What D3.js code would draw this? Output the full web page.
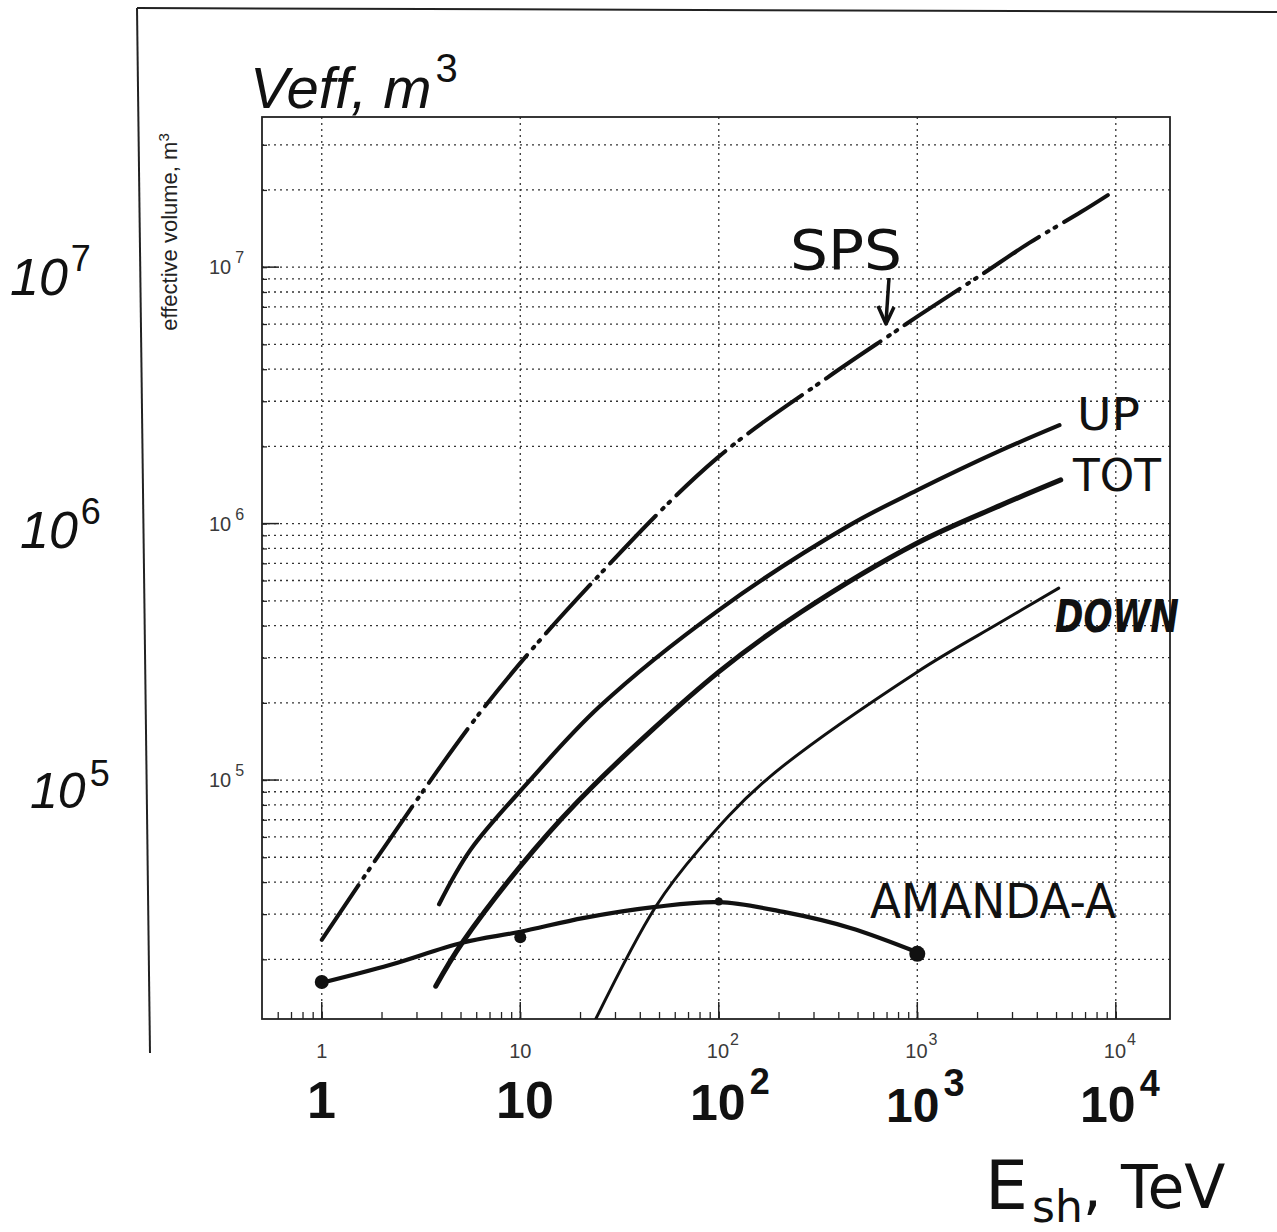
<!DOCTYPE html>
<html>
<head>
<meta charset="utf-8">
<script src="https://cdn.jsdelivr.net/npm/d3@7"></script>
<style>
  html, body { margin: 0; padding: 0; background: #fff; }
  svg { display: block; }
</style>
</head>
<body>
<svg id="chart" width="1277" height="1232"></svg>
<script>
// Effective volume vs. shower energy (log-log)
const xDecades = [1, 10, 100, 1000, 10000];
const xDecadeLabels = [["1", ""], ["10", ""], ["10", "2"], ["10", "3"], ["10", "4"]];
const yDecades = [1e5, 1e6, 1e7];
const yDecadeLabels = [["10", "5"], ["10", "6"], ["10", "7"]];

// SPS (dash-dot)
const spsE = [1, 6.3, 25, 98, 354, 753, 1007, 2090, 3650, 6670, 9120];
const spsV = [23800, 1.84e5, 6.3e5, 1.80e6, 3.72e6, 5.53e6, 6.44e6, 9.31e6, 1.24e7, 1.64e7, 1.91e7];
// UP
const upE = [3.9, 5.6, 11, 25, 100, 450, 1000, 2600, 5200];
const upV = [32800, 53300, 98300, 1.93e5, 4.6e5, 9.8e5, 1.35e6, 1.92e6, 2.42e6];
// TOT
const totE = [3.75, 5.1, 11.7, 23, 100, 260, 1000, 2640, 5280];
const totV = [15700, 23200, 53300, 9.4e4, 2.64e5, 4.52e5, 8.4e5, 1.18e6, 1.48e6];
// DOWN
const downE = [24, 48, 79, 173, 1000, 2640, 5160];
const downV = [11700, 32000, 53300, 1.0e5, 2.64e5, 4.13e5, 5.6e5];
// AMANDA-A curve and its measured points
const amandaE = [1, 2.2, 5.1, 10, 21, 48, 100, 212, 460, 1000];
const amandaV = [16200, 19000, 23200, 25600, 29000, 32000, 33400, 30600, 26500, 21300];
const amandaPtE = [1, 10, 100, 1000];
const amandaPtV = [16300, 24400, 33600, 21000];
const amandaPtR = [7, 6, 4, 8];

const svg = d3.select("#chart");
const L = 262, R = 1170, T = 117, B = 1019;

const x = d3.scaleLog().domain([0.5, 18750]).range([L, R]);
const y = d3.scaleLog().domain([1.17e4, 3.85e7]).range([B, T]);

const hand = "'DejaVu Sans', sans-serif";
const lib = "'Liberation Sans', Arial, sans-serif";
const thin = "'Liberation Sans', Arial, sans-serif";

// outer sheet frame
svg.append("line").attr("x1", 137).attr("y1", 8).attr("x2", 150).attr("y2", 1053)
  .attr("stroke", "#222").attr("stroke-width", 2);
svg.append("line").attr("x1", 137).attr("y1", 8).attr("x2", 1277).attr("y2", 12)
  .attr("stroke", "#222").attr("stroke-width", 2);

// minor values per decade
function minors(lo, hi) {
  const out = [];
  for (let d = Math.floor(Math.log10(lo)); d <= Math.ceil(Math.log10(hi)); d++) {
    for (let k = 1; k <= 9; k++) {
      const v = k * Math.pow(10, d);
      if (v > lo * 1.0001 && v < hi * 0.9999) out.push(v);
    }
  }
  return out;
}
const yGrid = minors(1.17e4, 3.85e7);
const xMinor = minors(0.5, 18750);

const g = svg.append("g");

// horizontal dotted grid
g.selectAll(".hg").data(yGrid).join("line")
  .attr("x1", L).attr("x2", R)
  .attr("y1", d => y(d)).attr("y2", d => y(d))
  .attr("stroke", "#333").attr("stroke-width", 1.3)
  .attr("stroke-dasharray", "2,4");
// vertical dotted grid at decades
g.selectAll(".vg").data(xDecades).join("line")
  .attr("x1", d => x(d)).attr("x2", d => x(d))
  .attr("y1", T).attr("y2", B)
  .attr("stroke", "#333").attr("stroke-width", 1.3)
  .attr("stroke-dasharray", "2,4");

// plot frame
g.append("rect").attr("x", L).attr("y", T).attr("width", R - L).attr("height", B - T)
  .attr("fill", "none").attr("stroke", "#222").attr("stroke-width", 1.8);

// axis ticks (inward)
const xAxis = d3.axisBottom(x).tickValues(xMinor).tickSizeInner(-7).tickSizeOuter(0).tickFormat("");
svg.append("g").attr("transform", `translate(0,${B})`).call(xAxis)
  .call(s => s.select(".domain").remove())
  .selectAll("line").attr("stroke", "#222").attr("stroke-width", 1.3);
svg.selectAll(".xmaj").data(xDecades).join("line")
  .attr("x1", d => x(d)).attr("x2", d => x(d)).attr("y1", B).attr("y2", B - 17)
  .attr("stroke", "#222").attr("stroke-width", 1.5);

const yAxis = d3.axisLeft(y).tickValues(yGrid).tickSizeInner(-5).tickSizeOuter(0).tickFormat("");
svg.append("g").attr("transform", `translate(${L},0)`).call(yAxis)
  .call(s => s.select(".domain").remove())
  .selectAll("line").attr("stroke", "#222").attr("stroke-width", 1.3);
svg.selectAll(".ymaj").data(yDecades).join("line")
  .attr("x1", L).attr("x2", L + 17).attr("y1", d => y(d)).attr("y2", d => y(d))
  .attr("stroke", "#222").attr("stroke-width", 1.5);

// printed tick labels (base and exponent in one text element)
xDecades.forEach((d, i) => {
  const [b, s] = xDecadeLabels[i];
  const t = svg.append("text").attr("x", s ? x(d) - 12 : x(d)).attr("y", 1058)
    .attr("text-anchor", s ? "start" : "middle").attr("font-family", thin)
    .attr("font-size", 20).attr("fill", "#3a3a3a");
  t.append("tspan").text(b);
  if (s) t.append("tspan").attr("dx", 1).attr("dy", -13).attr("font-size", 16).text(s);
});
yDecades.forEach((d, i) => {
  const [b, s] = yDecadeLabels[i];
  const t = svg.append("text").attr("x", 209).attr("y", y(d) + 7)
    .attr("font-family", thin).attr("font-size", 20).attr("fill", "#3a3a3a");
  t.append("tspan").text(b);
  t.append("tspan").attr("dx", 4).attr("dy", -11).attr("font-size", 16).text(s);
});

// rotated axis title
const yt = svg.append("text").attr("transform", "translate(177,232) rotate(-90)")
  .attr("text-anchor", "middle").attr("font-family", thin).attr("font-size", 22)
  .attr("fill", "#222");
yt.append("tspan").text("effective volume, m");
yt.append("tspan").attr("dy", -8).attr("font-size", 15).text("3");

// curves
svg.append("clipPath").attr("id", "plotclip")
  .append("rect").attr("x", L).attr("y", T).attr("width", R - L).attr("height", B - T);
const line = d3.line().x(d => x(d[0])).y(d => y(d[1])).curve(d3.curveCatmullRom.alpha(0.5));
const zip = (a, b) => a.map((v, i) => [v, b[i]]);
const curves = svg.append("g").attr("clip-path", "url(#plotclip)");

curves.append("path").datum(zip(spsE, spsV)).attr("d", line)
  .attr("fill", "none").attr("stroke", "#111").attr("stroke-width", 4)
  .attr("stroke-linecap", "round").attr("stroke-dasharray", "66,9,2,7,2,9");
curves.append("path").datum(zip(upE, upV)).attr("d", line)
  .attr("fill", "none").attr("stroke", "#111").attr("stroke-width", 4.2)
  .attr("stroke-linecap", "round");
curves.append("path").datum(zip(totE, totV)).attr("d", line)
  .attr("fill", "none").attr("stroke", "#111").attr("stroke-width", 5)
  .attr("stroke-linecap", "round");
curves.append("path").datum(zip(downE, downV)).attr("d", line)
  .attr("fill", "none").attr("stroke", "#111").attr("stroke-width", 3)
  .attr("stroke-linecap", "round");
curves.append("path").datum(zip(amandaE, amandaV)).attr("d", line)
  .attr("fill", "none").attr("stroke", "#111").attr("stroke-width", 4.2)
  .attr("stroke-linecap", "round");
curves.selectAll(".apt").data(zip(amandaPtE, amandaPtV)).join("circle")
  .attr("cx", d => x(d[0])).attr("cy", d => y(d[1]))
  .attr("r", (d, i) => amandaPtR[i]).attr("fill", "#111");

// hand lettering; a raised exponent sits in the same element
function handText(str, px, py, size, width, opts = {}) {
  const t = svg.append("text").attr("x", px).attr("y", py)
    .attr("font-family", opts.family || hand).attr("font-size", size)
    .attr("font-weight", opts.weight || "normal")
    .attr("font-style", opts.style || "normal")
    .attr("fill", "#111");
  const base = t.append("tspan").text(str);
  if (width) base.attr("textLength", width).attr("lengthAdjust", "spacingAndGlyphs");
  if (opts.sup) {
    t.append("tspan").attr("dx", opts.supDx || 3).attr("dy", -(opts.supRise || size * 0.45))
      .attr("font-size", opts.supSize || size * 0.72).attr("font-style", "normal")
      .text(opts.sup);
  }
  return t;
}

handText("Veff, m", 250, 108, 58, null, { family: lib, style: "italic", sup: "3", supSize: 40, supRise: 26, supDx: 4 });

handText("10", 10, 295, 52, null, { family: lib, style: "italic", sup: "7", supSize: 36, supRise: 24, supDx: 3 });
handText("10", 20, 548, 52, null, { family: lib, style: "italic", sup: "6", supSize: 36, supRise: 24, supDx: 3 });
handText("10", 30, 808, 50, null, { family: lib, style: "italic", sup: "5", supSize: 36, supRise: 22, supDx: 4 });

handText("1", 307, 1118, 52, null, { family: lib, weight: "bold" });
handText("10", 496, 1118, 52, null, { family: lib, weight: "bold" });
handText("10", 690, 1120, 50, null, { family: lib, weight: "bold", sup: "2", supSize: 36, supRise: 26, supDx: 4 });
handText("10", 886, 1122, 48, null, { family: lib, weight: "bold", sup: "3", supSize: 38, supRise: 26, supDx: 4 });
handText("10", 1080, 1122, 50, null, { family: lib, weight: "bold", sup: "4", supSize: 36, supRise: 26, supDx: 4 });

const esh = svg.append("text").attr("x", 985).attr("y", 1209)
  .attr("font-family", hand).attr("fill", "#111");
esh.append("tspan").attr("font-size", 68).text("E");
esh.append("tspan").attr("font-size", 44).attr("dx", 4).attr("dy", 13).text("sh");
esh.append("tspan").attr("font-size", 60).attr("dy", -14).text(", TeV");

handText("SPS", 790, 269, 56, 112);
handText("UP", 1077, 430, 44, 63);
handText("TOT", 1073, 491, 44, 88);
handText("DOWN", 1055, 632, 44, 124, { weight: "bold", style: "italic" });
handText("AMANDA-A", 870, 918, 48, 246);

// SPS arrow
svg.append("path").attr("d", "M889,278 L886,322")
  .attr("stroke", "#111").attr("stroke-width", 3.5).attr("fill", "none");
svg.append("path").attr("d", "M878,306 L886,324 L894,307")
  .attr("stroke", "#111").attr("stroke-width", 3.5).attr("fill", "none")
  .attr("stroke-linejoin", "round");
</script>
</body>
</html>
